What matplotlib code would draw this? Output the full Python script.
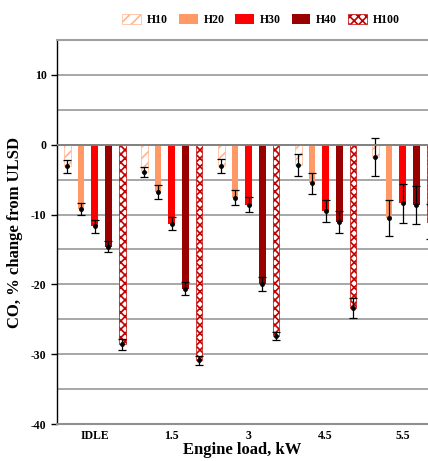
import matplotlib
matplotlib.use('Agg')
import matplotlib.pyplot as plt
import numpy as np
from matplotlib.patches import Patch

# Data
loads = ['IDLE', '1.5', '3', '4.5', '5.5']
blends = ['H10', 'H20', 'H30', 'H40', 'H100']
h10 = [-3.1, -3.9, -3.1, -2.9, -1.8]
h20 = [-9.2, -6.8, -7.6, -5.5, -10.5]
h30 = [-11.7, -11.3, -8.6, -9.5, -8.4]
h40 = [-14.6, -20.6, -20.0, -11.1, -8.6]
h100 = [-28.6, -30.9, -27.4, -23.4, -11.0]
err_h10 = [0.9, 0.7, 1.0, 1.6, 2.7]
err_h20 = [0.9, 1.0, 1.1, 1.5, 2.6]
err_h30 = [0.9, 0.9, 1.1, 1.6, 2.8]
err_h40 = [0.8, 0.9, 1.0, 1.6, 2.7]
err_h100 = [0.8, 0.6, 0.6, 1.4, 2.5]

values = [h10, h20, h30, h40, h100]
errors = [err_h10, err_h20, err_h30, err_h40, err_h100]

plt.rcParams['font.family'] = ['Liberation Serif', 'DejaVu Serif']
plt.rcParams['font.weight'] = 'bold'
plt.rcParams['hatch.linewidth'] = 1.2

styles = [
    dict(facecolor='white', edgecolor='#FFB48E', hatch='///', linewidth=0.5),
    dict(facecolor='#FF9966', edgecolor='#FF9966', hatch=None, linewidth=0),
    dict(facecolor='#FF0000', edgecolor='#FF0000', hatch=None, linewidth=0),
    dict(facecolor='#990000', edgecolor='#990000', hatch=None, linewidth=0),
    dict(facecolor='white', edgecolor='#C00000', hatch='xxxx', linewidth=0.5),
]

fig = plt.figure(figsize=(4.28, 4.61), dpi=100)
ax = fig.add_axes([57 / 428, 1 - 424 / 461, 1 - 57 / 428, 384 / 461])

x = np.arange(len(loads))
step = 0.178
width = 0.088

for i, (vals, errs, st) in enumerate(zip(values, errors, styles)):
    pos = x + (i - 2) * step
    ax.bar(pos, vals, width, zorder=3, **st)
    ax.errorbar(pos, vals, yerr=errs, fmt='o', color='black', ms=2.5,
                capsize=3, elinewidth=0.9, capthick=0.9, zorder=4)

ax.set_xlim(-0.49, 4.33)
ax.set_ylim(-40, 15)
ax.set_yticks(np.arange(-40, 11, 10))
ax.set_yticklabels([str(v) for v in range(-40, 11, 10)], fontsize=8.5, fontweight='bold')
ax.set_xticks(x)
ax.set_xticklabels(loads, fontsize=8.5, fontweight='bold')
ax.tick_params(axis='x', length=0, pad=4)
ax.tick_params(axis='y', length=4, direction='out', width=1)

for yv in np.arange(-35, 15, 5):
    ax.axhline(yv, color='#A0A0A0', lw=1.3, zorder=1)
ax.axhline(0, color='#808080', lw=1.3, zorder=5)

ax.spines['right'].set_visible(False)
ax.spines['top'].set_color('#A0A0A0')
ax.spines['top'].set_linewidth(1.5)
ax.spines['bottom'].set_color('#909090')
ax.spines['bottom'].set_linewidth(1.5)
ax.spines['left'].set_color('black')
ax.spines['left'].set_linewidth(1.0)

ax.set_ylabel('CO, % change from ULSD', fontsize=12, fontweight='bold', labelpad=6)
ax.set_xlabel('Engine load, kW', fontsize=12, fontweight='bold', labelpad=0)

handles = [Patch(**st) for st in styles]
fig.legend(handles, blends, loc='center', bbox_to_anchor=(261 / 428, 1 - 20 / 461),
           ncol=5, frameon=False, handlelength=1.6, handleheight=1.0,
           columnspacing=0.9, handletextpad=0.5, prop={'weight': 'bold', 'size': 8.5})

fig.savefig('out.png', dpi=100)
